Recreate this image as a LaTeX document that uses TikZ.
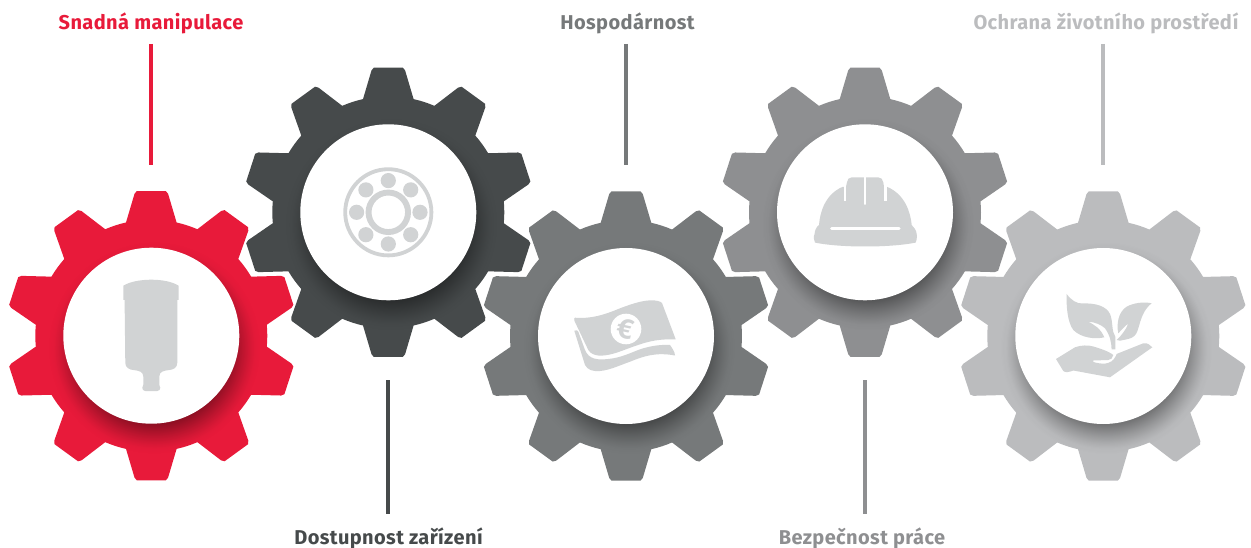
\documentclass[tikz,border=0pt]{standalone}
\usepackage{fontspec}
\setmainfont{Fira Sans}
\usetikzlibrary{fadings}
\definecolor{cRed}{HTML}{E81A3A}
\definecolor{cDark}{HTML}{464A4B}
\definecolor{cMid}{HTML}{76797A}
\definecolor{cGrey}{HTML}{8E8F91}
\definecolor{cLight}{HTML}{BBBCBE}
\definecolor{cIcon}{HTML}{D1D3D4}
\pgfdeclareradialshading{gearshadowshade}{\pgfpointorigin}{%
  color(0bp)=(pgftransparent!62); color(17.9bp)=(pgftransparent!62);
  color(20.8bp)=(pgftransparent!82); color(22.4bp)=(pgftransparent!92);
  color(23.6bp)=(pgftransparent!98); color(25bp)=(pgftransparent!100);
  color(50bp)=(pgftransparent!100)}
\pgfdeclarefading{gearshadow}{\pgfuseshading{gearshadowshade}}
\newcommand\gearoutline{%
  (77.4:116)
  \foreach \a in {90,126,162,198,234,270,306,342,378,414}{
    -- (\a-12.6:116) -- (\a-6.75:142.9) -- (\a-5.72:145.4) -- (\a+5.72:145.4) -- (\a+6.75:142.9) -- (\a+12.6:116)
    arc[start angle=\a+12.6,end angle=\a+23.4,radius=116] }
  -- cycle}
\newcommand\gearat[4]{% x, y, colour, name
  \begin{scope}[shift={(#1,#2)}]
    \fill[#3] \gearoutline;
    \begin{scope}
      \clip \gearoutline;
      \fill[black,path fading=gearshadow] (3,12) circle[radius=106];
    \end{scope}
  \end{scope}
  \node[hub] (#4) at (#1,#2) {};}
\tikzset{
  hub/.style={circle,fill=white,draw=none,inner sep=0pt,minimum size=176pt},
  lab/.style={font=\fontsize{20}{24}\selectfont\bfseries\addfontfeature{LetterSpace=2.0},inner sep=0pt,anchor=base},
  conn/.style={line width=4pt,line cap=butt},
  ico/.style={fill=cIcon,draw=none},
  cut/.style={draw=white,line width=2.6pt,line cap=butt}
}
\begin{document}
\begin{tikzpicture}[x=1pt,y=-1pt]
\useasboundingbox (0,0) rectangle (1251,548);
% gears
\gearat{388.3}{212.3}{cDark}{g2}
\gearat{865}{212.3}{cGrey}{g4}
\gearat{151.3}{335.7}{cRed}{g1}
\gearat{626}{336}{cMid}{g3}
\gearat{1103.3}{336}{cLight}{g5}
% connectors
\coordinate (a1) at (151.3,44); \coordinate (b1) at (151.3,165);
\coordinate (a2) at (388.3,380); \coordinate (b2) at (388.3,514);
\coordinate (a3) at (626,44); \coordinate (b3) at (626,165);
\coordinate (a4) at (865,380); \coordinate (b4) at (865,514);
\coordinate (a5) at (1103.3,44); \coordinate (b5) at (1103.3,165);
\draw[conn,cRed] (a1) -- (b1);
\draw[conn,cDark] (a2) -- (b2);
\draw[conn,cMid] (a3) -- (b3);
\draw[conn,cGrey] (a4) -- (b4);
\draw[conn,cLight] (a5) -- (b5);
% labels
\node[lab,text=cRed] (t1) at (151,30) {Snadná manipulace};
\node[lab,text=cDark] (t2) at (388.5,544.5) {Dostupnost zařízení};
\node[lab,text=cMid] (t3) at (627.5,30) {Hospodárnost};
\node[lab,text=cGrey] (t4) at (862,544.5) {Bezpečnost práce};
\node[lab,text=cLight] (t5) at (1106,30) {Ochrana životního prostředí};
% bottle
\begin{scope}[shift={(g1.center)}]
\fill[ico] (-28,-35.7) -- (-28,-50) .. controls (-15,-58) and (15,-58) .. (27.3,-50) -- (27.3,-35.7) -- (26,-35.7)
  -- (26,27) .. controls (26,32) and (22,34) .. (18,34.3) .. controls (12,35) and (8,36) .. (8,41) -- (8,49)
  .. controls (8,50) and (9,52) .. (9,52) .. controls (9,54) and (8,55) .. (6,55.3) -- (-6,55.3)
  .. controls (-8,55) and (-9,54) .. (-9,52) .. controls (-8,51) and (-8,50) .. (-8,49) -- (-8,41)
  .. controls (-8,36) and (-12,35) .. (-18,34.3) .. controls (-22,34) and (-26,32) .. (-26,27)
  -- (-26.7,-35.7) -- cycle;
\end{scope}
% bearing
\begin{scope}[shift={(g2.center)}]
\draw[cIcon,line width=3.8pt] (0,0) circle[radius=43.1];
\draw[cIcon,line width=5.9pt] (0,0) circle[radius=19.75];
\foreach \b in {0,45,...,315}{\fill[ico] (\b:31.7) circle[radius=7.6];}
\end{scope}
% banknote
\begin{scope}[shift={(g3.center)}]
\fill[ico] (-51,-18.3) .. controls (-35,-17) and (-22,-21) .. (-6,-27.7)
  .. controls (8,-33) and (22,-37.5) .. (32,-35) .. controls (34,-34.5) and (35,-34) .. (36,-33)
  -- (49.7,3.3) .. controls (38,3) and (28,4) .. (17.3,7.3) .. controls (5,11) and (-6,16) .. (-14,18)
  .. controls (-22,20) and (-33,21.5) .. (-37.7,14) -- (-51.5,-15) .. controls (-52,-17) and (-52,-18) .. cycle;
\fill[ico] (-51.7,-5.3) .. controls (-50,-6) and (-48,-6) .. (-47.7,-4.3) -- (-41,14)
  .. controls (-37,23) and (-30,25) .. (-12.7,22.3) .. controls (0,20) and (8,15) .. (17.3,12.3)
  .. controls (27,9.5) and (36,8.5) .. (44,9) .. controls (46,12) and (49,16) .. (49,19.5)
  .. controls (30,16) and (18,20) .. (4,25.7) .. controls (-8,30) and (-16,34) .. (-26,35)
  .. controls (-34,35.5) and (-38,34) .. (-41,29) -- cycle;
\fill[white] (0,-7) circle[radius=15.3];
\node[rotate=-12,inner sep=0pt,text=cIcon,font=\fontsize{28}{28}\selectfont\bfseries] (eu) at (-0.5,-7) {€};
\end{scope}
% hard hat
\begin{scope}[shift={(g4.center)}]
\fill[ico] (-50,30.3) .. controls (-25,35.5) and (25,35.5) .. (50.7,30.3) .. controls (52,28) and (52,22) .. (51.7,22)
  .. controls (51.5,18) and (49,15) .. (46.7,12.7) .. controls (45.5,0) and (40,-18) .. (22,-25.5) -- (19,-25.5) -- (18.3,-30)
  .. controls (18,-33) and (16,-35) .. (13,-35) -- (-13,-35) .. controls (-16,-35) and (-18,-33) .. (-18,-30)
  -- (-19,-25.5) -- (-22.3,-25.5) .. controls (-40,-18) and (-45,0) .. (-46,12.7)
  .. controls (-49,15) and (-50,18) .. (-50.5,22) .. controls (-51.5,24) and (-51.5,28) .. cycle;
\draw[cut] (-20,-27) -- (-20,-11.3);
\draw[cut] (20.7,-27) -- (20.7,-11.3);
\draw[cut,line cap=round] (0,-36) -- (0,-8.5);
\draw[white,line width=3.4pt,line cap=round] (-33.3,16) -- (34,16);
\end{scope}
% plant in hand
\begin{scope}[shift={(g5.center)}]
\fill[ico] (-36.7,-42) .. controls (-32,-36) and (-27,-32) .. (-20,-32.5)
  .. controls (-8,-33) and (3,-30) .. (6.7,-22) .. controls (10,-14) and (8,-5) .. (12,0.7)
  -- (12,13.3) -- (8.3,13.3) .. controls (8,6) and (7,0) .. (1.7,-7.7)
  .. controls (-2,-11) and (-8,-14) .. (-15,-14.3) .. controls (-9,-11) and (-3,-8) .. (1,1.3)
  .. controls (-8,3.5) and (-22,2) .. (-30,-6) .. controls (-36,-14) and (-37,-30) .. cycle;
\fill[ico] (48.3,-32.7) .. controls (40,-34.5) and (30,-33) .. (23.3,-29.3)
  .. controls (15,-24) and (13,-12) .. (15,-2.7) .. controls (18,-6) and (22,-10) .. (25,-12.7)
  .. controls (24,-9) and (19,-1) .. (13.3,4) -- (16.7,4.7) .. controls (22,3.5) and (28,3) .. (31,0)
  .. controls (37,-5) and (35,-22) .. cycle;
\fill[ico] (-47.3,23) -- (-28.3,11.3) .. controls (-22,9) and (-15,9) .. (-10,10.5)
  .. controls (-5,12) and (5,15) .. (10,19) .. controls (9,22) and (8,24) .. (5,24)
  -- (-10,24.5) -- (-10,26) .. controls (-3,28) and (8,30) .. (12.5,20)
  -- (13.3,18) -- (40,7.3) .. controls (44,6.5) and (47,9) .. (49,11.3)
  -- (6.7,41.3) -- (-30,34.5) .. controls (-34,36) and (-38,37) .. (-40,35) -- cycle;
\end{scope}
\end{tikzpicture}
\end{document}
